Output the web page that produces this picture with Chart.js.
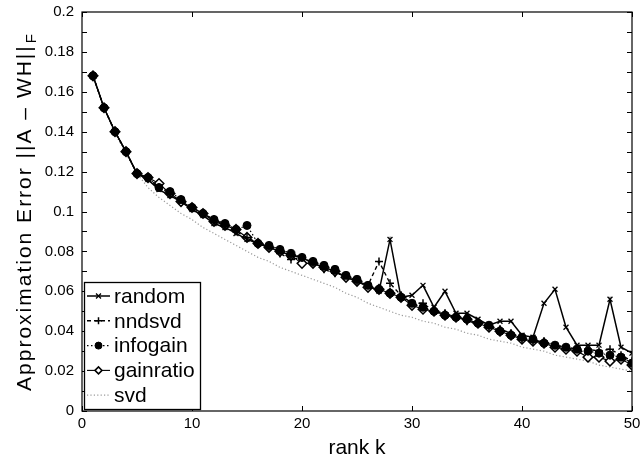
<!DOCTYPE html>
<html>
<head>
<meta charset="utf-8">
<script src="https://cdn.jsdelivr.net/npm/chart.js@4.4.0/dist/chart.umd.min.js"></script>
<style>
  html, body { margin: 0; padding: 0; background: #fff; }
  #wrap { width: 644px; height: 465px; position: relative; }
</style>
</head>
<body>
<div id="wrap"><canvas id="errChart"></canvas></div>
<script>
// rank k
const ranks = [1,2,3,4,5,6,7,8,9,10,11,12,13,14,15,16,17,18,19,20,
               21,22,23,24,25,26,27,28,29,30,31,32,33,34,35,36,37,38,39,40,
               41,42,43,44,45,46,47,48,49,50];

// approximation error per initialisation
const randomErr = [.168,.152,.140,.130,.119,.116,.111,.108,.105,.101,
                   .098,.094,.092,.089,.086,.084,.082,.080,.078,.077,
                   .074,.072,.070,.067,.065,.063,.060,.086,.057,.058,
                   .063,.052,.060,.049,.049,.046,.043,.045,.045,.038,
                   .037,.054,.061,.042,.033,.033,.033,.056,.032,.029];
const nndsvdErr = [.168,.152,.140,.130,.119,.117,.112,.109,.106,.102,
                   .099,.096,.093,.090,.087,.084,.082,.079,.076,.077,
                   .074,.071,.069,.068,.065,.063,.075,.064,.058,.054,
                   .054,.050,.049,.047,.045,.044,.042,.041,.039,.036,
                   .035,.035,.033,.032,.031,.031,.030,.031,.028,.025];
const infogainErr = [.168,.152,.140,.130,.119,.117,.112,.110,.106,.102,
                     .099,.096,.094,.091,.093,.084,.083,.081,.079,.077,
                     .075,.073,.071,.068,.066,.063,.061,.059,.057,.054,
                     .052,.050,.048,.047,.046,.044,.043,.040,.038,.037,
                     .036,.034,.033,.032,.031,.030,.029,.028,.027,.024];
const gainratioErr = [.168,.152,.140,.130,.119,.117,.114,.109,.105,.102,
                      .099,.095,.093,.091,.087,.084,.082,.080,.078,.074,
                      .074,.072,.070,.067,.065,.062,.061,.059,.057,.053,
                      .051,.050,.048,.047,.046,.044,.042,.040,.038,.036,
                      .035,.034,.032,.031,.030,.027,.027,.025,.026,.023];
const svdErr = [.168,.152,.139,.129,.119,.112,.107,.103,.099,.096,
                .092,.089,.086,.083,.080,.077,.075,.072,.070,.068,
                .066,.064,.062,.059,.057,.054,.052,.050,.048,.047,
                .045,.044,.042,.041,.039,.038,.036,.035,.034,.032,
                .031,.030,.028,.027,.026,.025,.023,.022,.021,.020];

const seriesNames = ['random', 'nndsvd', 'infogain', 'gainratio', 'svd'];
const xTicks = [0, 10, 20, 30, 40, 50];
const yTicks = [0, 0.02, 0.04, 0.06, 0.08, 0.1, 0.12, 0.14, 0.16, 0.18, 0.2];

const FONT = '"Liberation Sans", Arial, Helvetica, sans-serif';

function pts(vals) {
    return ranks.map((k, i) => ({ x: k, y: vals[i] }));
}

const datasets = [
    { label: seriesNames[0], data: pts(randomErr), borderColor: '#000', borderWidth: 1.5,
      pointStyle: 'crossRot', pointRadius: 3.5, pointBorderWidth: 1.3, pointBorderColor: '#000' },
    { label: seriesNames[1], data: pts(nndsvdErr), borderColor: '#000', borderWidth: 1.4, borderDash: [4, 3],
      pointStyle: 'cross', pointRadius: 4, pointBorderWidth: 1.5, pointBorderColor: '#000' },
    { label: seriesNames[2], data: pts(infogainErr), borderColor: '#000', borderWidth: 1.2, borderDash: [1.5, 2.5],
      pointStyle: 'circle', pointRadius: 4, pointBorderWidth: 1, pointBorderColor: '#000', pointBackgroundColor: '#000' },
    { label: seriesNames[3], data: pts(gainratioErr), borderColor: '#000', borderWidth: 1.1,
      pointStyle: 'rectRot', pointRadius: 4.8, pointBorderWidth: 1.5, pointBorderColor: '#000', pointBackgroundColor: '#fff' },
    { label: seriesNames[4], data: pts(svdErr), borderColor: '#9a9a9a', borderWidth: 1.2, borderDash: [1.2, 2.2],
      pointRadius: 0 }
];

// box, inward ticks, legend and the y title with subscript
const decor = {
    id: 'decor',
    afterDatasetsDraw(chart) {
        const { ctx, chartArea: a, scales } = chart;
        const xs = scales.x, ys = scales.y;
        ctx.save();
        ctx.strokeStyle = '#000';
        ctx.lineWidth = 1.2;
        ctx.setLineDash([]);
        ctx.strokeRect(a.left, a.top, a.right - a.left, a.bottom - a.top);

        ctx.lineWidth = 1;
        ctx.beginPath();
        xTicks.forEach(v => {
            const px = Math.round(xs.getPixelForValue(v)) + 0.5;
            ctx.moveTo(px, a.bottom); ctx.lineTo(px, a.bottom - 5);
            ctx.moveTo(px, a.top); ctx.lineTo(px, a.top + 5);
        });
        for (let i = 0; i <= 20; i++) {
            const py = Math.round(ys.getPixelForValue(i / 100)) + 0.5;
            ctx.moveTo(a.left, py); ctx.lineTo(a.left + 5, py);
            ctx.moveTo(a.right, py); ctx.lineTo(a.right - 5, py);
        }
        ctx.stroke();

        // legend
        const lx = 84, ly = 282, lw = 116, lh = 127;
        ctx.fillStyle = '#fff';
        ctx.fillRect(lx, ly, lw, lh);
        ctx.lineWidth = 1.3;
        ctx.strokeRect(lx + 0.5, ly + 0.5, lw, lh);
        ctx.font = '21px ' + FONT;
        ctx.textBaseline = 'middle';
        chart.data.datasets.forEach((ds, i) => {
            const y = ly + 14 + i * 24.8;
            ctx.strokeStyle = ds.borderColor;
            ctx.lineWidth = ds.borderWidth;
            ctx.setLineDash(ds.borderDash || []);
            ctx.beginPath();
            ctx.moveTo(87, y); ctx.lineTo(110, y);
            ctx.stroke();
            ctx.setLineDash([]);
            if (ds.pointRadius > 0) {
                ctx.fillStyle = ds.pointBackgroundColor || '#000';
                ctx.strokeStyle = ds.pointBorderColor;
                ctx.lineWidth = ds.pointBorderWidth;
                Chart.helpers.drawPoint(ctx, {
                    pointStyle: ds.pointStyle, radius: Math.min(ds.pointRadius, 3.5),
                    borderWidth: ds.pointBorderWidth, rotation: 0
                }, 98.5, y);
            }
            ctx.fillStyle = '#000';
            ctx.fillText(ds.label, 114, y + 1);
        });

        // y axis title, spread a little to match the original length
        const spacing = 2;
        const main = 'Approximation Error ||A \u2013 WH||';
        ctx.translate(31, 212);
        ctx.rotate(-Math.PI / 2);
        ctx.textBaseline = 'alphabetic';
        const hasLS = 'letterSpacing' in ctx;
        if (hasLS) ctx.letterSpacing = spacing + 'px';
        ctx.font = '21px ' + FONT;
        let wMain = ctx.measureText(main).width;
        if (hasLS) {
            ctx.letterSpacing = '0px';
            wMain = ctx.measureText(main).width + spacing * main.length;
            ctx.letterSpacing = spacing + 'px';
        }
        ctx.font = '15px ' + FONT;
        const wSub = ctx.measureText('F').width;
        const start = -(wMain + wSub) / 2;
        ctx.font = '21px ' + FONT;
        ctx.fillText(main, start, 0);
        ctx.font = '15px ' + FONT;
        ctx.fillText('F', start + wMain + 1, 5);
        ctx.restore();
    }
};

new Chart(document.getElementById('errChart'), {
    type: 'line',
    data: { datasets },
    options: {
        responsive: true,
        maintainAspectRatio: false,
        animation: false,
        layout: { padding: { top: 12, right: 12, left: 0, bottom: 0 } },
        plugins: { legend: { display: false }, tooltip: { enabled: false } },
        elements: { line: { tension: 0 } },
        scales: {
            x: {
                type: 'linear', min: 0, max: 50,
                afterBuildTicks: s => { s.ticks = xTicks.map(v => ({ value: v })); },
                afterFit: s => { s.height = 54; s.paddingLeft = 0; s.paddingRight = 0; },
                grid: { display: false, drawTicks: false, tickLength: 0 },
                border: { display: false },
                ticks: { color: '#000', font: { family: FONT, size: 15 }, padding: 4, maxRotation: 0 },
                title: { display: true, text: 'rank k', color: '#000',
                         font: { family: FONT, size: 21 }, padding: { top: 0, bottom: 4 } }
            },
            y: {
                type: 'linear', min: 0, max: 0.2,
                afterBuildTicks: s => { s.ticks = yTicks.map(v => ({ value: v })); },
                afterFit: s => { s.width = 82; s.paddingTop = 0; s.paddingBottom = 0; },
                grid: { display: false, drawTicks: false, tickLength: 0 },
                border: { display: false },
                ticks: { color: '#000', font: { family: FONT, size: 15 }, padding: 8,
                         callback: v => String(Math.round(v * 100) / 100) }
            }
        }
    },
    plugins: [decor]
});
</script>
</body>
</html>
